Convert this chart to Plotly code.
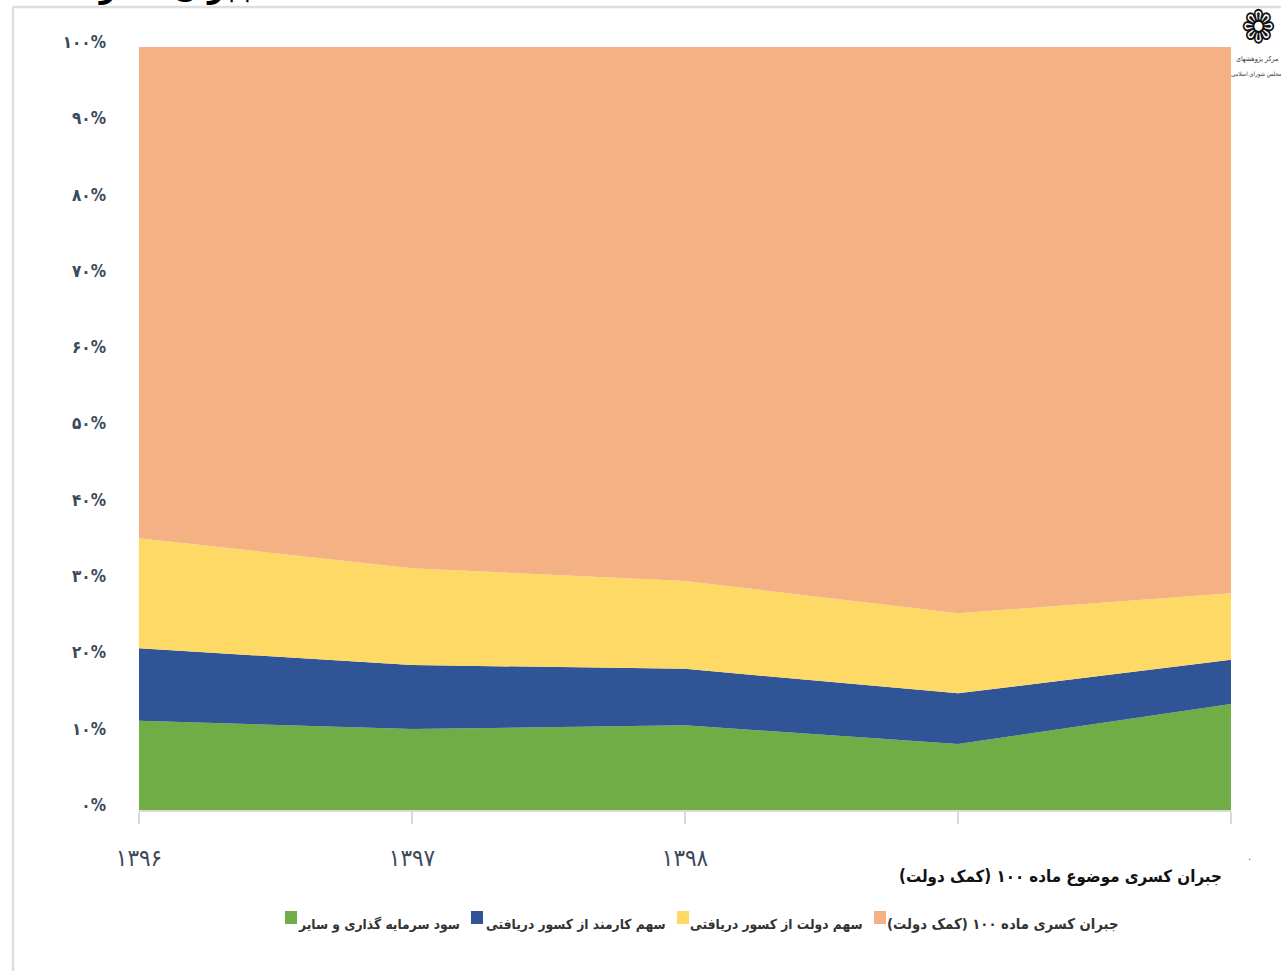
import plotly.graph_objects as go

FONT = "DejaVu Sans Condensed, DejaVu Sans"
categories = ["1396", "1397", "1398", "1399", "1400"]
x_tick_labels = ["۱۳۹۶", "۱۳۹۷", "۱۳۹۸", "", ""]
y_tick_values = [0, 10, 20, 30, 40, 50, 60, 70, 80, 90, 100]
y_tick_labels = ["۰%", "۱۰%", "۲۰%", "۳۰%", "۴۰%", "۵۰%", "۶۰%", "۷۰%", "۸۰%", "۹۰%", "۱۰۰%"]

investment = [11.7, 10.6, 11.1, 8.65, 13.9]
employee_share = [9.5, 8.4, 7.4, 6.65, 5.8]
government_share = [14.4, 12.7, 11.5, 10.5, 8.7]
article_100 = [64.4, 68.3, 70.0, 74.2, 71.6]

names = [
    "سود سرمایه گذاری و سایر",
    "سهم کارمند از کسور دریافتی",
    "سهم دولت از کسور دریافتی",
    "جبران کسری ماده ۱۰۰ (کمک دولت)",
]
colors = ["#70AD47", "#2F5597", "#FFD966", "#F4B183"]
series = [investment, employee_share, government_share, article_100]
subtitle = "جبران کسری موضوع ماده ۱۰۰ (کمک دولت)"
cut_title = "جبران کسری"
logo_lines = ["مرکز پژوهشهای", "مجلس شورای اسلامی"]

W, H = 1281, 971
L, R, T, B = 139, 1231, 47, 810


def px(v):
    return (v - L) / (R - L)


def py(v):
    return (B - v) / (B - T)


xaxis_range = [0, len(categories) - 1]
fig = go.Figure()
for name, color, values in zip(names, colors, series):
    fig.add_trace(go.Scatter(
        x=list(range(len(categories))), y=values, name=name, mode="lines",
        stackgroup="one", line=dict(width=0, color=color), fillcolor=color,
        showlegend=False, hovertemplate="%{y}%<extra>" + name + "</extra>",
    ))

annotations = []
shapes = []


def text(x, y, s, size, color="#1a1a1a", anchor="center", bold=False):
    annotations.append(dict(
        x=px(x), y=py(y), xref="paper", yref="paper", text=f"<b>{s}</b>" if bold else s,
        showarrow=False, xanchor=anchor, yanchor="middle",
        font=dict(family=FONT, size=size, color=color),
    ))


text(1224, 876, subtitle, 16.8, "#111111", "right", True)
text(1249, 856, ".", 11, "#555555")
text(165, -14, cut_title, 32, "#000000", "center", True)

# hand-placed legend, matching the swatch-to-text spacing of the picture
legend_right = [462, 668, 865, 1120]
legend_swatch = [285, 471, 677, 874]
legend_sizes = [13.7, 13.7, 13.7, 14.7]
for s, t, size, name, color in zip(legend_swatch, legend_right, legend_sizes, names, colors):
    shapes.append(dict(type="rect", xref="paper", yref="paper", x0=px(s), x1=px(s + 12),
                       y0=py(924), y1=py(911), fillcolor=color, line=dict(width=0)))
    text(t, 924, name, size, "#333333", "right", True)

# logo
text(1258, 27, "❁", 46, "#111111", "center", True)
text(1257, 59, logo_lines[0], 7, "#333333")
text(1256, 74, logo_lines[1], 6, "#333333")

# page frame
shapes.append(dict(type="line", xref="paper", yref="paper", x0=px(13), x1=px(W),
                   y0=py(7), y1=py(7), line=dict(color="#DEDEDE", width=2.5)))
shapes.append(dict(type="line", xref="paper", yref="paper", x0=px(13), x1=px(13),
                   y0=py(H), y1=py(7), line=dict(color="#DEDEDE", width=2.5)))

fig.update_layout(
    width=W, height=H,
    margin=dict(l=L, r=W - R, t=T, b=H - B, pad=0),
    paper_bgcolor="white", plot_bgcolor="white",
    showlegend=False, annotations=annotations, shapes=shapes,
    font=dict(family=FONT),
    xaxis=dict(
        range=xaxis_range, tickmode="array", tickvals=list(range(len(categories))),
        ticktext=x_tick_labels, ticks="outside", ticklen=12, tickwidth=1.5, tickcolor="#D9D9D9",
        showline=True, linecolor="#D9D9D9", linewidth=1.5, showgrid=False, zeroline=False,
        ticklabelstandoff=13, tickfont=dict(family=FONT, size=24, color="#3b4a5a"),
    ),
    yaxis=dict(
        range=[0, 100], tickmode="array", tickvals=y_tick_values, ticktext=y_tick_labels,
        showgrid=False, zeroline=False, showline=False, ticks="",
        ticklabelstandoff=32, ticklabelshift=-5,
        tickfont=dict(family=FONT, size=17, color="#3b4a5a", weight="bold"),
    ),
)

fig.write_html("out.html", config={"displayModeBar": False},
               post_script="document.body.style.margin='0';")
